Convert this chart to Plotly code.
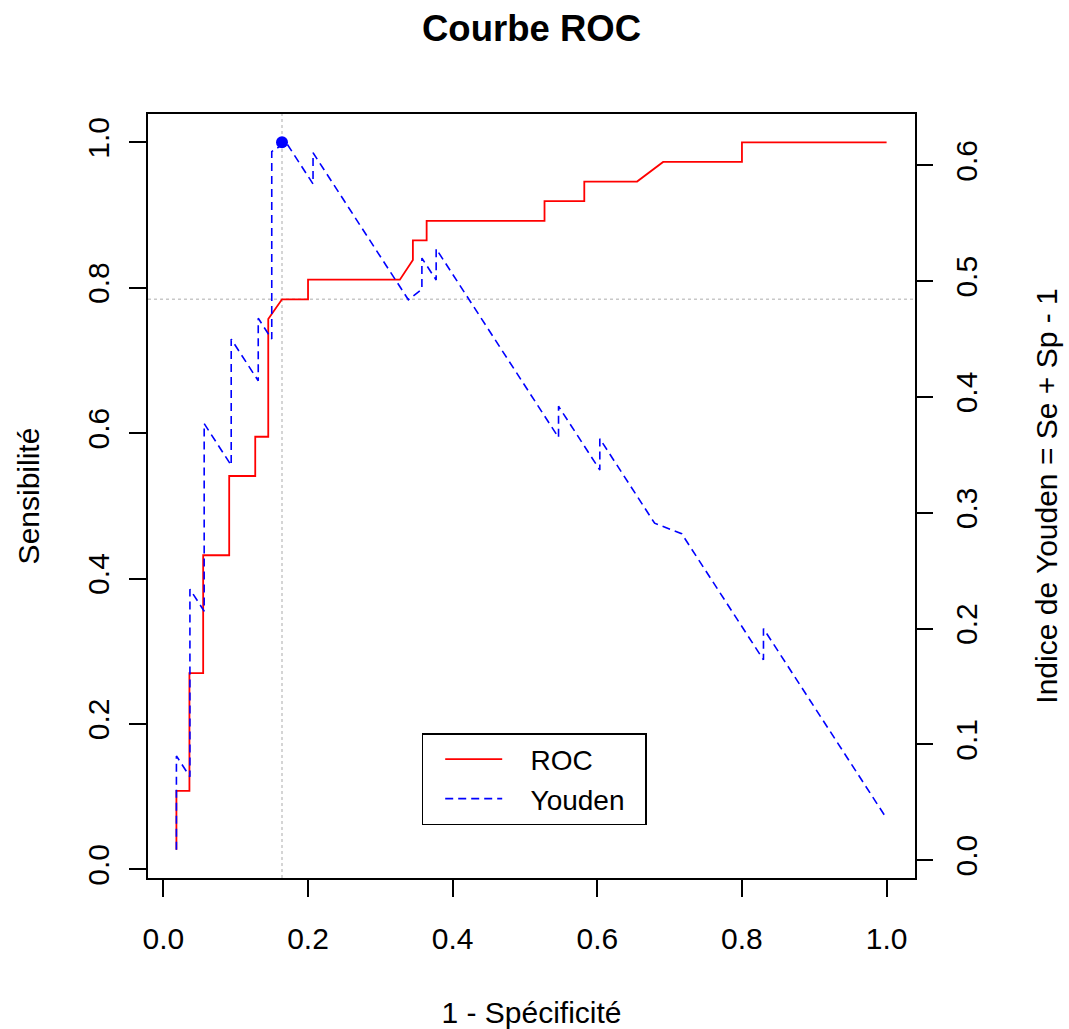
import plotly.graph_objects as go

# ROC curve (1 - specificity, sensitivity)
roc_fpr = [0.018, 0.018, 0.036, 0.036, 0.055, 0.055, 0.091, 0.091, 0.127, 0.127,
           0.145, 0.145, 0.164, 0.200, 0.200, 0.327, 0.345, 0.345, 0.364, 0.364,
           0.527, 0.527, 0.582, 0.582, 0.655, 0.691, 0.800, 0.800, 1.000]
roc_sens = [0.027, 0.108, 0.108, 0.270, 0.270, 0.432, 0.432, 0.541, 0.541, 0.595,
            0.595, 0.757, 0.784, 0.784, 0.811, 0.811, 0.838, 0.865, 0.865, 0.892,
            0.892, 0.919, 0.919, 0.946, 0.946, 0.973, 0.973, 1.000, 1.000]

# Youden index curve (Se + Sp - 1)
youden_fpr = [0.018, 0.018, 0.036, 0.036, 0.055, 0.055, 0.091, 0.091, 0.127, 0.127,
              0.145, 0.145, 0.164, 0.200, 0.200, 0.327, 0.345, 0.345, 0.364, 0.364,
              0.527, 0.527, 0.582, 0.582, 0.655, 0.691, 0.800, 0.800, 0.964]
youden = [0.009, 0.090, 0.072, 0.234, 0.215, 0.377, 0.341, 0.450, 0.414, 0.468,
          0.450, 0.612, 0.620, 0.584, 0.611, 0.484, 0.493, 0.520, 0.501, 0.528,
          0.365, 0.392, 0.337, 0.364, 0.291, 0.282, 0.173, 0.200, 0.036]

# optimal cut-off
best_fpr = 0.164
best_sens = 0.784
best_youden = 0.620

x_ticks = [0.0, 0.2, 0.4, 0.6, 0.8, 1.0]
y_ticks = [0.0, 0.2, 0.4, 0.6, 0.8, 1.0]
y2_ticks = [0.0, 0.1, 0.2, 0.3, 0.4, 0.5, 0.6]

series_names = ["ROC", "Youden"]


def r_range(v):
    lo, hi = min(v), max(v)
    d = 0.04 * (hi - lo)
    return [lo - d, hi + d]


def legend_label(name):
    # padding to mimic R's legend spacing
    return "\u00a0" * 3 + name + "\u00a0" * 2


FONT = "Liberation Sans, Arial, sans-serif"
FS = 30

fig = go.Figure()
fig.add_trace(go.Scatter(x=roc_fpr, y=roc_sens, mode="lines",
                         name=legend_label(series_names[0]),
                         line=dict(color="#FF0000", width=1.8),
                         xaxis="x", yaxis="y"))
fig.add_trace(go.Scatter(x=youden_fpr, y=youden, mode="lines",
                         name=legend_label(series_names[1]),
                         line=dict(color="#0000FF", width=1.6, dash="8px,5px"),
                         xaxis="x2", yaxis="y2"))
fig.add_trace(go.Scatter(x=[best_fpr], y=[best_youden], mode="markers",
                         marker=dict(color="#0000FF", size=12),
                         showlegend=False, xaxis="x", yaxis="y2"))

fig.add_vline(x=best_fpr, line=dict(color="#c8c8c8", width=1.5, dash="3px,3px"),
              layer="below")
fig.add_hline(y=best_sens, line=dict(color="#c8c8c8", width=1.5, dash="3px,3px"),
              layer="below")

axis_common = dict(showgrid=False, zeroline=False, ticks="outside", ticklen=17,
                   tickwidth=1.5, tickcolor="black", tickformat=".1f",
                   tickfont=dict(family=FONT, size=FS, color="black"),
                   automargin=False)

fig.update_layout(
    width=1069, height=1029,
    margin=dict(l=148, r=154, t=114, b=151),
    paper_bgcolor="white", plot_bgcolor="white",
    font=dict(family=FONT, size=FS, color="black"),
    title=dict(text="<b>Courbe ROC</b>", x=0.5, xref="paper", xanchor="center",
               y=1 - 28 / 1029, yref="container", yanchor="middle",
               font=dict(family=FONT, size=36.5, color="black")),
    xaxis=dict(range=r_range(roc_fpr), tickvals=x_ticks, showline=True,
               linecolor="black", linewidth=1.5, mirror=True,
               title=dict(text="1 - Spécificité", standoff=51,
                          font=dict(family=FONT, size=FS)),
               ticklabelstandoff=16, **axis_common),
    xaxis2=dict(range=r_range(youden_fpr), overlaying="x", visible=False),
    yaxis=dict(range=r_range(roc_sens), tickvals=y_ticks, showline=True,
               linecolor="black", linewidth=1.5, mirror=True, tickangle=-90,
               title=dict(text="Sensibilité", standoff=34,
                          font=dict(family=FONT, size=FS)),
               ticklabelstandoff=8, **axis_common),
    yaxis2=dict(range=r_range(youden), tickvals=y2_ticks, overlaying="y",
                side="right", anchor="x", showline=False, tickangle=-90,
                title=dict(text="Indice de Youden = Se + Sp - 1", standoff=53,
                           font=dict(family=FONT, size=FS)),
                ticklabelstandoff=8, **axis_common),
    showlegend=True,
    legend=dict(x=(421.7 - 148) / 767, y=1 - (733 - 114) / 764,
                xanchor="left", yanchor="top",
                bordercolor="black", borderwidth=1.5, bgcolor="white",
                font=dict(family=FONT, size=28, color="black"),
                itemwidth=57, indentation=17),
)

fig.write_html("out.html")
